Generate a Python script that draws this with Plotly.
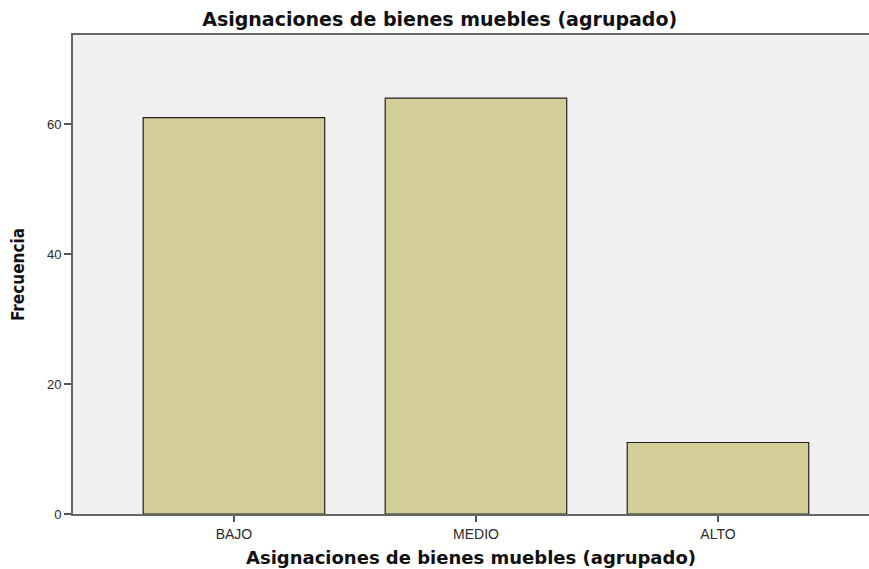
import plotly.graph_objects as go

categories = ["BAJO", "MEDIO", "ALTO"]
frequencies = [61, 64, 11]
y_ticks = [0, 20, 40, 60]

fig = go.Figure(go.Bar(
    x=categories, y=frequencies,
    width=0.75,
    marker=dict(color="#D3CE97", line=dict(color="#222222", width=1.2)),
    hoverinfo="skip",
))

TITLE_FONT = "DejaVu Sans, Verdana, sans-serif"
fig.update_layout(
    width=869, height=569,
    margin=dict(l=73, r=0, t=35, b=55),
    paper_bgcolor="white", plot_bgcolor="#F0F0F0",
    showlegend=False,
    title=dict(text="<b>Asignaciones de bienes muebles (agrupado)</b>",
               x=0.506, xanchor="center", y=0.966, yanchor="middle",
               font=dict(family=TITLE_FONT, size=19, color="#111")),
    font=dict(family="Liberation Sans, Arial", color="#222"),
)
fig.update_xaxes(
    type="category", range=[-0.665, 2.624],
    showline=True, linecolor="#666", linewidth=2, mirror=True,
    ticks="outside", ticklen=6, tickcolor="#555", tickwidth=1.5,
    tickfont=dict(size=14, color="#2a2a2a"),
    showgrid=False,
    title=dict(text="<b>Asignaciones de bienes muebles (agrupado)</b>",
               font=dict(family=TITLE_FONT, size=18, color="#111"), standoff=11),
)
fig.update_yaxes(
    range=[0, 73.7], tickvals=y_ticks,
    showline=True, linecolor="#666", linewidth=2,
    ticks="outside", ticklen=7, tickcolor="#555", tickwidth=1.5,
    tickfont=dict(size=13, color="#2a2a2a"),
    showgrid=False, zeroline=False,
    title=dict(text="<b>Frecuencia</b>",
               font=dict(family="Liberation Sans Narrow, DejaVu Sans Condensed, Liberation Sans", size=17, color="#111"), standoff=18),
)

fig.write_html("out.html", config={"displayModeBar": False},
               post_script="document.body.style.margin='0';document.body.style.overflow='hidden';")
